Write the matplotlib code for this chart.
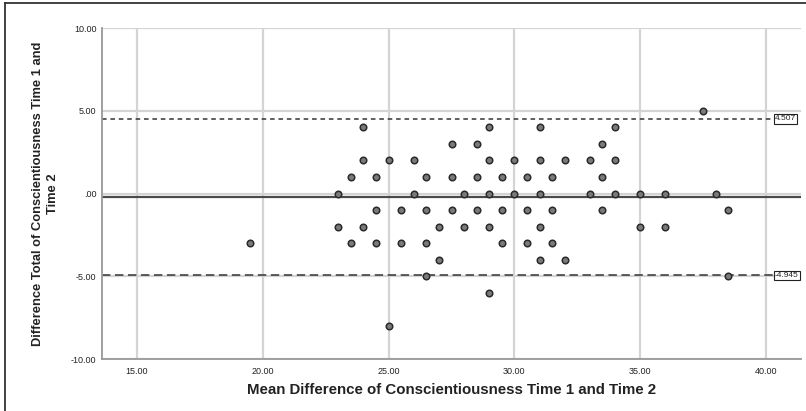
import matplotlib
matplotlib.use("Agg")
import matplotlib.pyplot as plt
from matplotlib.lines import Line2D

plt.rcParams['font.family'] = ['Liberation Sans', 'DejaVu Sans']

# Mean of Time 1 and Time 2 (x) and difference (y)
mean_vals = [24, 27.5, 24, 25, 26, 23.5, 24.5, 26.5, 27.5, 23, 26, 28,
             24.5, 25.5, 26.5, 27.5, 23, 24, 27, 28, 19.5, 23.5, 24.5, 25.5,
             26.5, 27, 26.5, 25,
             37.5, 29, 31, 34, 28.5, 33.5, 29, 30, 31, 32, 33, 34,
             28.5, 29.5, 30.5, 31.5, 33.5, 29, 30, 31, 33, 34, 35, 36, 38,
             28.5, 29.5, 30.5, 31.5, 33.5, 38.5, 29, 31, 35, 36,
             29.5, 30.5, 31.5, 31, 32, 38.5, 29]
diff_vals = [4, 3, 2, 2, 2, 1, 1, 1, 1, 0, 0, 0,
             -1, -1, -1, -1, -2, -2, -2, -2, -3, -3, -3, -3,
             -3, -4, -5, -8,
             5, 4, 4, 4, 3, 3, 2, 2, 2, 2, 2, 2,
             1, 1, 1, 1, 1, 0, 0, 0, 0, 0, 0, 0, 0,
             -1, -1, -1, -1, -1, -1, -2, -2, -2, -2,
             -3, -3, -3, -4, -4, -5, -6]

mean_diff = -0.219
upper_loa = 4.507
lower_loa = -4.945
loa_labels = ["4.507", "-4.945"]

x_ticks = [15, 20, 25, 30, 35, 40]
x_ticklabels = ["15.00", "20.00", "25.00", "30.00", "35.00", "40.00"]
y_ticks = [-10, -5, 0, 5, 10]
y_ticklabels = ["-10.00", "-5.00", ".00", "5.00", "10.00"]

W, H = 806, 411
fig = plt.figure(figsize=(W / 100, H / 100), dpi=100)
ax = fig.add_axes([102 / W, 1 - 359 / H, (801 - 102) / W, (359 - 28) / H])

ax.set_xlim(13.61, 41.39)
ax.set_ylim(-10, 10)

grid_c = '#d4d4d4'
for xv in x_ticks:
    ax.axvline(xv, color=grid_c, lw=1.6, zorder=0)
for yv in y_ticks:
    ax.axhline(yv, color=grid_c, lw=1.6, zorder=0)

ax.axhline(mean_diff, color='#4a4a4a', lw=1.6, zorder=2)
ax.axhline(upper_loa, xmax=0.962, color='#333333', lw=1.1,
           linestyle=(0, (3, 2.5)), zorder=2)
ax.axhline(lower_loa, xmax=0.962, color='#333333', lw=1.1,
           linestyle=(0, (5.5, 3)), zorder=2)

for val, lab in zip([upper_loa, lower_loa], loa_labels):
    ax.annotate(lab, xy=(0.9625, val), xycoords=('axes fraction', 'data'),
                ha='left', va='center', fontsize=6, color='#222222',
                bbox=dict(boxstyle='square,pad=0.15', fc='white',
                          ec='#222222', lw=0.8),
                annotation_clip=False, zorder=5)

ax.scatter(mean_vals, diff_vals, s=22, facecolor='#7a7a7a',
           edgecolor='#2a2a2a', linewidths=1.1, zorder=4)

for s in ['top', 'right']:
    ax.spines[s].set_visible(False)
for s in ['left', 'bottom']:
    ax.spines[s].set_color('#999999')
    ax.spines[s].set_linewidth(1.3)

ax.set_xticks(x_ticks)
ax.set_xticklabels(x_ticklabels)
ax.set_yticks(y_ticks)
ax.set_yticklabels(y_ticklabels)
ax.tick_params(length=0, labelsize=6.5, colors='#222222')
ax.tick_params(axis='x', pad=6)
ax.tick_params(axis='y', pad=4)

ax.set_xlabel("Mean Difference of Conscientiousness Time 1 and Time 2",
              fontsize=10.8, fontweight='bold', color='#222222')
ax.xaxis.set_label_coords(0.5, -0.072)
ax.set_ylabel("Difference Total of Conscientiousness Time 1 and\nTime 2",
              fontsize=9.3, fontweight='bold', color='#222222',
              linespacing=1.25)
ax.yaxis.set_label_coords(-0.062, 0.5)

# outer frame
fig.add_artist(Line2D([5 / W, 5 / W], [0, 1 - 3 / H], transform=fig.transFigure,
                      color='#333333', lw=1.3))
fig.add_artist(Line2D([5 / W, 1], [1 - 3 / H, 1 - 3 / H], transform=fig.transFigure,
                      color='#333333', lw=1.3))

fig.savefig("out.png", dpi=100)
